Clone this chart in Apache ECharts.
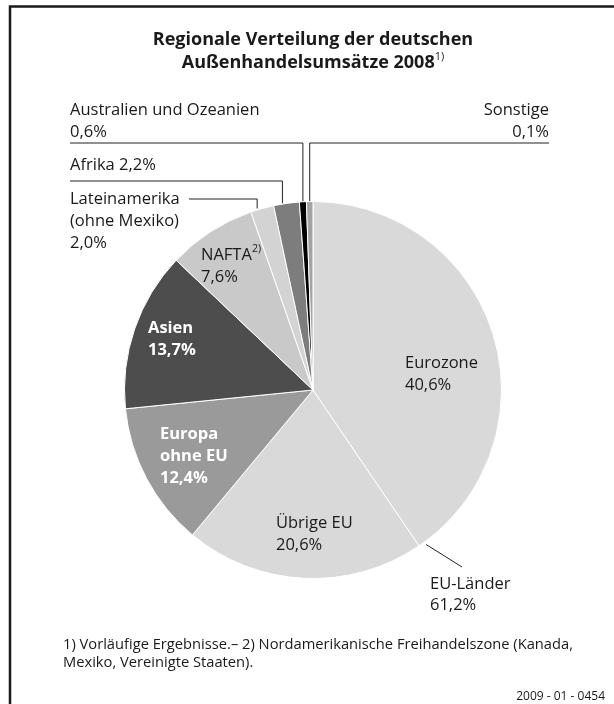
<!DOCTYPE html>
<html>
<head>
<meta charset="utf-8">
<script src="https://cdn.jsdelivr.net/npm/echarts@6/dist/echarts.min.js"></script>
<style>
html, body { margin: 0; padding: 0; background: #fff; }
#chart { width: 614px; height: 704px; }
</style>
</head>
<body>
<div id="chart"></div>
<script>
// Anteile in %, Reihenfolge im Uhrzeigersinn ab 12 Uhr
const regions = ["Eurozone", "Übrige EU", "Europa\nohne EU", "Asien", "NAFTA{sup|2)}",
  "Lateinamerika\n(ohne Mexiko)", "Afrika", "Australien und Ozeanien", "Sonstige"];
const shares = [40.6, 20.6, 12.4, 13.7, 7.6, 2.0, 2.2, 0.6, 0.1];
const sliceColors = ["#d9d9d9", "#d9d9d9", "#9a9a9a", "#4d4d4d", "#c9c9c9",
  "#d3d3d3", "#7d7d7d", "#000000", "#a3a3a3"];
const euLabel = ["EU-Länder", 61.2];

const FONT = "'Open Sans', sans-serif";
const CX = 313, CY = 390, R = 188.5, MIN_ANGLE = 2;

// Lage der Beschriftungen (links oben), Führungslinien
const labelPlace = [
  { x: 405, y: 352 },
  { x: 276, y: 512 },
  { x: 160, y: 423, bold: true },
  { x: 148, y: 317, bold: true },
  { x: 201, y: 244 },
  { x: 70, y: 188, lineY: 199, lineEnd: 189, lineDx: -5 },
  { x: 70, y: 154, lineY: 181, lineEnd: 70, lineDx: -4, oneLine: true },
  { x: 70, y: 99, lineY: 143, lineEnd: 70 },
  { x: 549, y: 99, lineY: 143, lineEnd: 549, align: "right" }
];

const pct = v => v.toFixed(1).replace(".", ",") + "%";

const pieData = regions.map((name, i) => {
  const pl = labelPlace[i];
  const outside = pl.lineY != null;
  return {
    name: name,
    value: shares[i],
    itemStyle: { color: sliceColors[i] },
    label: {
      position: outside ? "outside" : "inside",
      color: pl.bold ? "#ffffff" : "#1a1a1a",
      fontWeight: pl.bold ? "bold" : "normal",
      align: pl.align || "left"
    },
    labelLine: { show: outside }
  };
});

// Winkel der Grenze Eurozone / Übrige EU (wie die Pie-Berechnung mit minAngle)
function boundaryAngle() {
  const total = shares.reduce((a, b) => a + b, 0);
  let small = 0, rest = 0;
  shares.forEach(v => {
    if (v / total * 360 < MIN_ANGLE) small++; else rest += v;
  });
  const unit = (360 - small * MIN_ANGLE) / rest;
  return shares[0] * unit;
}
const a0 = (boundaryAngle() - 2) * Math.PI / 180;
const euStart = [CX + (R + 3) * Math.sin(a0), CY - (R + 3) * Math.cos(a0)];

const chart = echarts.init(document.getElementById("chart"));
chart.setOption({
  animation: false,
  graphic: [
    {
      type: "rect",
      shape: { x: 10, y: 6.5, width: 700, height: 800 },
      style: { fill: "none", stroke: "#1a1a1a", lineWidth: 2.5 },
      silent: true
    },
    {
      type: "text",
      x: 313, y: 28,
      style: {
        text: "Regionale Verteilung der deutschen\nAußenhandelsumsätze 2008{sup|1)}",
        align: "center",
        verticalAlign: "top",
        fill: "#1a1a1a",
        font: "bold 18px " + FONT,
        lineHeight: 23,
        rich: {
          sup: { font: "11px " + FONT, fill: "#1a1a1a", verticalAlign: "top", lineHeight: 15 }
        }
      }
    },
    {
      type: "text",
      x: 430, y: 574,
      style: {
        text: euLabel[0] + "\n" + pct(euLabel[1]),
        fill: "#1a1a1a",
        font: "16.5px " + FONT,
        lineHeight: 21
      }
    },
    {
      type: "line",
      shape: { x1: euStart[0], y1: euStart[1], x2: 462, y2: 567 },
      style: { stroke: "#222", lineWidth: 1 }
    },
    {
      type: "text",
      x: 63, y: 636,
      style: {
        text: "1) Vorläufige Ergebnisse.– 2) Nordamerikanische Freihandelszone (Kanada,\nMexiko, Vereinigte Staaten).",
        fill: "#1a1a1a",
        font: "14.7px " + FONT,
        lineHeight: 18
      }
    },
    {
      type: "text",
      x: 605, y: 697,
      style: {
        text: "2009 - 01 - 0454",
        align: "right",
        verticalAlign: "middle",
        fill: "#1a1a1a",
        font: "12px " + FONT
      }
    }
  ],
  series: [
    {
      type: "pie",
      center: [CX, CY],
      radius: R,
      startAngle: 90,
      clockwise: true,
      minAngle: MIN_ANGLE,
      avoidLabelOverlap: false,
      silent: true,
      itemStyle: { borderColor: "#ffffff", borderWidth: 1 },
      label: {
        show: true,
        fontFamily: FONT,
        fontSize: 16.5,
        lineHeight: 22,
        formatter: p => {
          const pl = labelPlace[p.dataIndex];
          return p.name + (pl.oneLine ? " " : "\n") + pct(p.value);
        },
        rich: {
          sup: { fontFamily: FONT, fontSize: 10.5, verticalAlign: "top", lineHeight: 14, color: "#1a1a1a" }
        }
      },
      labelLine: {
        lineStyle: { color: "#222", width: 1 }
      },
      labelLayout: p => {
        const pl = labelPlace[p.dataIndex];
        const res = { x: pl.x, y: pl.y, align: pl.align || "left", verticalAlign: "top" };
        if (pl.lineY != null && p.labelLinePoints) {
          const s = p.labelLinePoints[0];
          const sx = s[0] + (pl.lineDx || 0);
          res.labelLinePoints = [[sx, s[1]], [sx, pl.lineY], [pl.lineEnd, pl.lineY]];
        }
        return res;
      },
      data: pieData
    }
  ]
});
window.onresize = () => chart.resize();
</script>
</body>
</html>
